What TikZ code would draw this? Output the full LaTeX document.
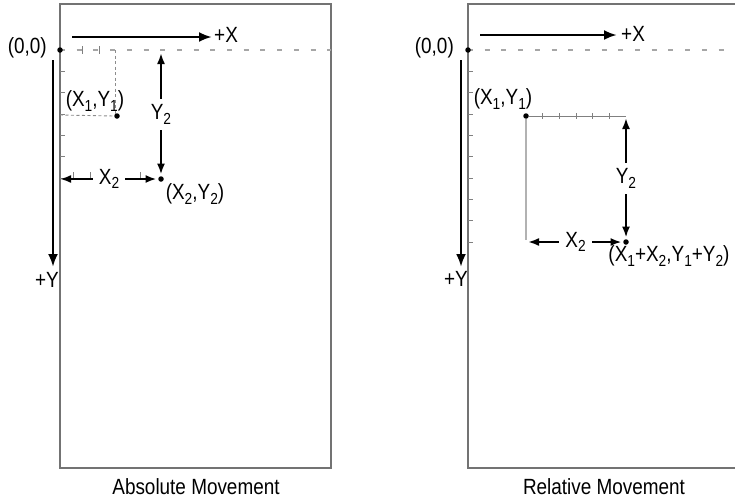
\documentclass[tikz,border=0pt]{standalone}
\usepackage{fontspec}
\setmainfont{Liberation Sans}[FakeStretch=0.86]
\usetikzlibrary{arrows.meta}
\newcommand{\low}[1]{\raisebox{-0.4ex}{\fontsize{16}{16}\selectfont #1}}

\begin{document}
\begin{tikzpicture}[x=1pt, y=-1pt,
  lbl/.style={font=\fontsize{22}{24}\selectfont, inner sep=1pt},
  frame/.style={draw=black!55, line width=1.2pt},
  dot/.style={circle, fill=black, inner sep=0pt, minimum size=5.5pt},
  axis/.style={line width=2.8pt, -{Latex[length=13pt, width=10pt]}},
  dim/.style={line width=2pt, {Latex[length=11pt, width=8pt]}-{Latex[length=11pt, width=8pt]}, shorten >=1.5pt},
  gap/.style={lbl, fill=white, inner sep=6pt},
  guide/.style={draw=black!35, line width=1.3pt, dash pattern=on 5pt off 11.7pt},
  fine/.style={draw=black!45, line width=0.9pt, dash pattern=on 3pt off 2.5pt},
  tick/.style={draw=black!50, line width=0.9pt},
]
\useasboundingbox (0,0) rectangle (735,498);

% Absolute movement
\draw[frame] (60,4) rectangle (331,468);
\draw[guide] (60,50) -- (331,50);
\foreach \k in {1,...,6} \draw[tick] (60,50+21.33*\k) -- ++(5,0);
\foreach \x in {82.7,99.3} \draw[tick] (\x,46) -- (\x,54);
\foreach \x in {73,90,123,140} \draw[tick] (\x,172) -- (\x,178);
\node[dot] (orgA) at (60,50) {};
\node[dot] (p1A) at (117,116) {};
\node[dot] (p2A) at (161,179) {};
\draw[fine] (115,50) -- (115,114);
\draw[fine] (60,115) -- (p1A.west);
\coordinate (xaA) at (72,37);
\coordinate (xbA) at (212,37);
\coordinate (yaA) at (53,60);
\coordinate (ybA) at (53,267);
\coordinate (x2A) at (60,179);
\coordinate (y2A) at (161,53);
\draw[axis] (xaA) -- (xbA);
\draw[axis] (yaA) -- (ybA);
\draw[dim] (x2A) -- node[gap] {X\low{2}} (p2A);
\draw[dim] (y2A) -- node[gap] {Y\low{2}} (p2A);
\node[lbl, anchor=east] (o0A) at (48,48) {(0,0)};
\node[lbl, anchor=west] (plxA) at (213,35) {+X};
\node[lbl] (plyA) at (47,280) {+Y};
\node[lbl] (t1A) at (95,101) {(X\low{1},Y\low{1})};
\node[lbl] (t2A) at (195,194) {(X\low{2},Y\low{2})};
\node[lbl] (capA) at (196,487) {Absolute Movement};

% Relative movement
\draw[frame] (735,4) -- (468,4) -- (468,468) -- (735,468);
\draw[guide] (468,50) -- (735,50);
\foreach \k in {1,...,9} \draw[tick] (468,50+21.33*\k) -- ++(5,0);
\node[dot] (orgR) at (468,50) {};
\node[dot] (p1R) at (526,116) {};
\node[dot] (p2R) at (626,242) {};
\draw[draw=black!30, line width=1.4pt] (p1R) -- (526,240);
\draw[tick] (p1R) -- (626,116);
\foreach \k in {1,...,5} \draw[tick] (526+16.67*\k,113) -- ++(0,6);
\coordinate (xaR) at (480,35);
\coordinate (xbR) at (617,35);
\coordinate (yaR) at (461,60);
\coordinate (ybR) at (461,267);
\coordinate (x2R) at (528,242);
\coordinate (y2R) at (626,118);
\draw[axis] (xaR) -- (xbR);
\draw[axis] (yaR) -- (ybR);
\draw[dim] (x2R) -- node[gap] {X\low{2}} (p2R);
\draw[dim] (y2R) -- node[gap] {Y\low{2}} (p2R);
\node[lbl, anchor=east] (o0R) at (455,48) {(0,0)};
\node[lbl, anchor=west] (plxR) at (620,34) {+X};
\node[lbl] (plyR) at (456,279) {+Y};
\node[lbl] (t1R) at (503,99) {(X\low{1},Y\low{1})};
\node[lbl] (t2R) at (669,256) {(X\low{1}+X\low{2},Y\low{1}+Y\low{2})};
\node[lbl] (capR) at (604,487) {Relative Movement};
\end{tikzpicture}
\end{document}
